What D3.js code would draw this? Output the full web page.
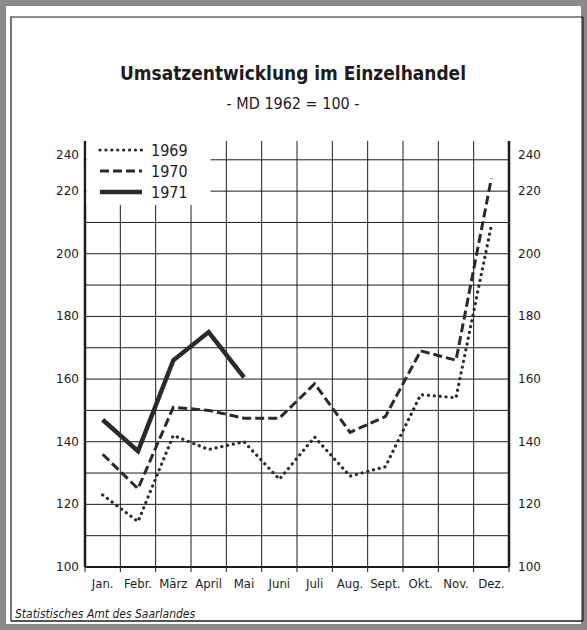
<!DOCTYPE html>
<html>
<head>
<meta charset="utf-8">
<script src="https://cdn.jsdelivr.net/npm/d3@7"></script>
<style>
    html, body { margin: 0; padding: 0; background: #fff; }
    svg { display: block; }
</style>
</head>
<body>
<div id="chart"></div>
<script>
// Umsatzentwicklung im Einzelhandel, MD 1962 = 100
const months = ["Jan.", "Febr.", "März", "April", "Mai", "Juni", "Juli", "Aug.", "Sept.", "Okt.", "Nov.", "Dez."];
const years = ["1969", "1970", "1971"];
const values1969 = [123, 114.5, 142, 137.5, 140, 128, 141.5, 129, 132, 155, 154, 209];
const values1970 = [136, 125, 151, 150, 147.5, 147.5, 158.5, 143, 148, 169, 166, 224];
const values1971 = [147, 137, 166, 175, 160.5];
const yTicks = [100, 120, 140, 160, 180, 200, 220, 240];

const W = 587, H = 630;
const ink = "#1c1c1c";
const margin = { top: 141, right: 78, bottom: 63, left: 85 };
const width = W - margin.left - margin.right;
const height = H - margin.top - margin.bottom;

const svg = d3.select("#chart").append("svg")
    .attr("width", W)
    .attr("height", H);

// page frame
svg.append("rect")
    .attr("x", 3).attr("y", 3).attr("width", W - 6).attr("height", H - 6)
    .attr("fill", "none").attr("stroke", "#8a8a8a").attr("stroke-width", 6);
svg.append("path")
    .attr("d", `M11,${H - 9} V17 H${W - 4}`)
    .attr("fill", "none").attr("stroke", ink).attr("stroke-width", 1.2);
svg.append("line")
    .attr("x1", 11).attr("x2", W - 4).attr("y1", H - 9).attr("y2", H - 9)
    .attr("stroke", ink).attr("stroke-width", 1.5);
svg.append("line")
    .attr("x1", W - 4).attr("x2", W - 4).attr("y1", 17).attr("y2", H - 9)
    .attr("stroke", ink).attr("stroke-width", 1.2);

// titles
svg.append("text")
    .attr("x", 293).attr("y", 80)
    .attr("text-anchor", "middle")
    .attr("font-family", "DejaVu Sans Condensed, DejaVu Sans")
    .attr("font-weight", "bold")
    .attr("font-size", 20)
    .attr("textLength", 346)
    .attr("lengthAdjust", "spacingAndGlyphs")
    .attr("fill", ink)
    .text("Umsatzentwicklung im Einzelhandel");
svg.append("text")
    .attr("x", 293).attr("y", 109)
    .attr("text-anchor", "middle")
    .attr("font-family", "DejaVu Sans Condensed, DejaVu Sans")
    .attr("font-size", 16)
    .attr("fill", ink)
    .text("- MD 1962 = 100 -");

// footer
svg.append("text")
    .attr("x", 15).attr("y", 618)
    .attr("font-family", "DejaVu Sans Condensed, DejaVu Sans")
    .attr("font-style", "italic")
    .attr("font-size", 12)
    .attr("fill", ink)
    .text("Statistisches Amt des Saarlandes");

const g = svg.append("g")
    .attr("transform", `translate(${margin.left},${margin.top})`);

const x = d3.scaleBand()
    .domain(months)
    .range([0, width])
    .padding(0);

const y = d3.scaleLinear()
    .domain([100, 236])
    .range([height, 0]);

const cx = m => x(m) + x.bandwidth() / 2;

// grid
const grid = g.append("g").attr("stroke", ink).attr("stroke-width", 1);
grid.selectAll(".h")
    .data(d3.range(110, 236, 10))
    .enter().append("line")
    .attr("x1", 0).attr("x2", width)
    .attr("y1", d => y(d)).attr("y2", d => y(d));
grid.selectAll(".v")
    .data(months.slice(1))
    .enter().append("line")
    .attr("x1", d => x(d)).attr("x2", d => x(d))
    .attr("y1", 0).attr("y2", height + 5);
grid.append("line")
    .attr("x1", 0).attr("x2", 0).attr("y1", height).attr("y2", height + 5);
grid.append("line")
    .attr("x1", width).attr("x2", width).attr("y1", height).attr("y2", height + 5);

// frame of the plot
g.append("line").attr("x1", 0).attr("x2", width).attr("y1", height).attr("y2", height)
    .attr("stroke", ink).attr("stroke-width", 2);
g.append("line").attr("x1", 0).attr("x2", 0).attr("y1", 0).attr("y2", height)
    .attr("stroke", ink).attr("stroke-width", 2.5);
g.append("line").attr("x1", width).attr("x2", width).attr("y1", 0).attr("y2", height)
    .attr("stroke", ink).attr("stroke-width", 2.5);

// legend box hides the grid
g.append("rect")
    .attr("x", 1.5).attr("y", -2)
    .attr("width", 124).attr("height", 66)
    .attr("fill", "#fff");

// axis labels
const yLabel = d => y(Math.min(d, y.domain()[1])) + (d > y.domain()[1] ? 18 : 4);
g.append("g").selectAll("text")
    .data(yTicks)
    .enter().append("text")
    .attr("x", -6).attr("y", yLabel)
    .attr("text-anchor", "end")
    .attr("font-family", "DejaVu Sans")
    .attr("font-size", 12)
    .attr("fill", ink)
    .text(d => d);
g.append("g").selectAll("text")
    .data(yTicks)
    .enter().append("text")
    .attr("x", width + 9).attr("y", yLabel)
    .attr("font-family", "DejaVu Sans")
    .attr("font-size", 12)
    .attr("fill", ink)
    .text(d => d);
g.append("g").selectAll("text")
    .data(months)
    .enter().append("text")
    .attr("x", d => cx(d)).attr("y", height + 21)
    .attr("text-anchor", "middle")
    .attr("font-family", "Liberation Sans Narrow, DejaVu Sans Condensed")
    .attr("font-size", 13)
    .attr("fill", ink)
    .text(d => d);

// series
const styles = {
    "1969": { width: 3.2, dash: "0.1 5.8", cap: "round" },
    "1970": { width: 3, dash: "9 4", cap: "butt" },
    "1971": { width: 4.5, dash: null, cap: "butt" },
};
const series = [
    { year: years[0], values: values1969 },
    { year: years[1], values: values1970 },
    { year: years[2], values: values1971 },
];

const line = d3.line()
    .x((d, i) => cx(months[i]))
    .y(d => y(d));

g.selectAll(".series")
    .data(series)
    .enter().append("path")
    .attr("class", "series")
    .attr("d", d => line(d.values))
    .attr("fill", "none")
    .attr("stroke", "#2a2a2a")
    .attr("stroke-width", d => styles[d.year].width)
    .attr("stroke-dasharray", d => styles[d.year].dash)
    .attr("stroke-linecap", d => styles[d.year].cap)
    .attr("stroke-linejoin", "miter");

// legend
const legend = g.append("g").selectAll("g")
    .data(series)
    .enter().append("g")
    .attr("transform", (d, i) => `translate(0,${9 + i * 21})`);
legend.append("line")
    .attr("x1", 15).attr("x2", 57).attr("y1", 0).attr("y2", 0)
    .attr("stroke", "#2a2a2a")
    .attr("stroke-width", d => styles[d.year].width)
    .attr("stroke-dasharray", d => styles[d.year].dash)
    .attr("stroke-linecap", d => styles[d.year].cap);
legend.append("text")
    .attr("x", 66).attr("y", 6)
    .attr("font-family", "DejaVu Sans Condensed, DejaVu Sans")
    .attr("font-size", 16)
    .attr("fill", ink)
    .text(d => d.year);
</script>
</body>
</html>
